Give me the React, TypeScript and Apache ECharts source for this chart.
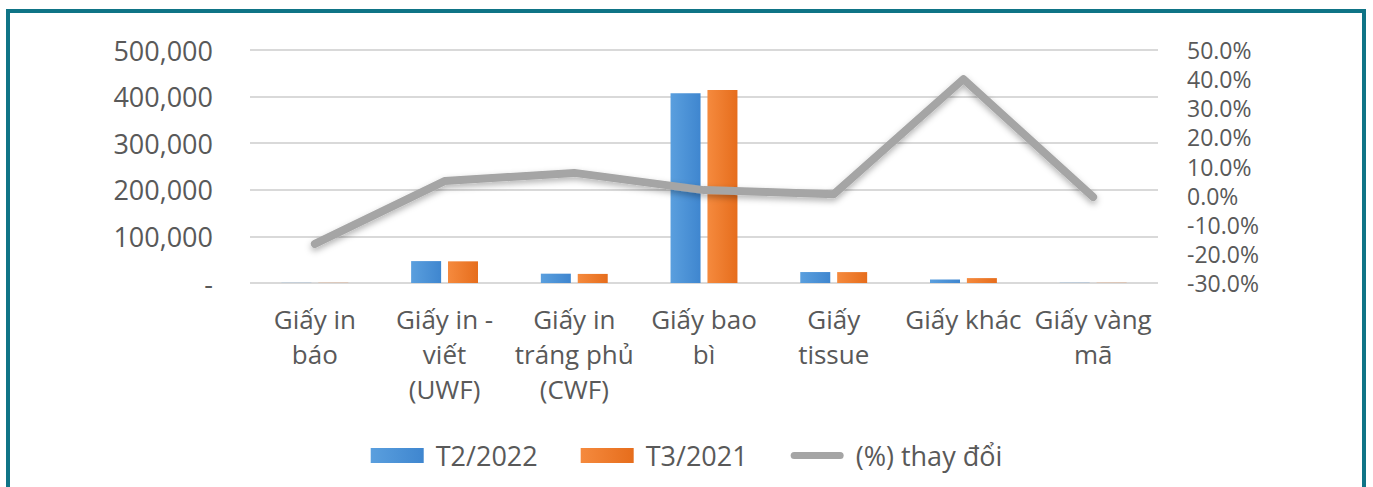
import React, { useEffect, useRef } from "react";
import * as echarts from "echarts";

const categories = [
  "Giấy in\nbáo",
  "Giấy in -\nviết\n(UWF)",
  "Giấy in\ntráng phủ\n(CWF)",
  "Giấy bao\nbì",
  "Giấy\ntissue",
  "Giấy khác",
  "Giấy vàng\nmã",
];
const seriesT2_2022 = [300, 47000, 20000, 407000, 23500, 7500, 400];
const seriesT3_2021 = [360, 46500, 19500, 414000, 23400, 10500, 402];
const pctChange = [-0.166, 0.05, 0.078, 0.019, 0.005, 0.4, -0.005];
const leftTicks = { min: 0, max: 500000, interval: 100000 };
const rightTicks = { min: -0.3, max: 0.5, interval: 0.1 };

const TEXT = "#595959";
const FONT = "'Open Sans', 'Noto Sans', sans-serif";

export default function App() {
  const ref = useRef<HTMLDivElement>(null);
  useEffect(() => {
    if (!ref.current) return;
    const chart = echarts.init(ref.current, undefined, { renderer: "svg" });
    chart.setOption({
      animation: false,
      backgroundColor: "#ffffff",
      graphic: [
        {
          type: "rect",
          shape: { x: 8, y: 11, width: 1356, height: 520 },
          style: { fill: "none", stroke: "#0f7486", lineWidth: 4 },
          silent: true,
        },
      ],
      grid: { left: 250, right: 215, top: 50, bottom: 204, containLabel: false },
      legend: {
        top: 437,
        left: "center",
        itemWidth: 53,
        itemHeight: 15,
        itemGap: 43,
        symbolKeepAspect: true,
        formatter: (name: string) => " " + name,
        textStyle: { fontSize: 27, color: TEXT, fontFamily: FONT },
        data: [
          { name: "T2/2022", icon: "rect" },
          { name: "T3/2021", icon: "rect" },
          {
            name: "(%) thay đổi",
            icon: "path://M4,0H56A4,4 0 0 1 56,8H4A4,4 0 0 1 4,0Z",
            itemStyle: { color: "#a5a5a5" },
          },
        ],
      },
      xAxis: {
        type: "category",
        data: categories,
        axisLine: { show: false },
        axisTick: { show: false },
        axisLabel: {
          interval: 0,
          margin: 18,
          fontSize: 26,
          lineHeight: 35,
          color: TEXT,
          fontFamily: FONT,
        },
      },
      yAxis: [
        {
          type: "value",
          min: leftTicks.min,
          max: leftTicks.max,
          interval: leftTicks.interval,
          axisLine: { show: false },
          axisTick: { show: false },
          splitLine: { lineStyle: { color: "#d9d9d9", width: 2 } },
          axisLabel: {
            margin: 37,
            fontSize: 27,
            lineHeight: 32,
            color: TEXT,
            fontFamily: FONT,
            formatter: (v: number) => (v === 0 ? "-" : v.toLocaleString("en-US")),
          },
        },
        {
          type: "value",
          min: rightTicks.min,
          max: rightTicks.max,
          interval: rightTicks.interval,
          axisLine: { show: false },
          axisTick: { show: false },
          splitLine: { show: false },
          axisLabel: {
            margin: 29,
            fontSize: 23,
            lineHeight: 26,
            color: TEXT,
            fontFamily: FONT,
            formatter: (v: number) => (Math.round(v * 1000) / 10).toFixed(1) + "%",
          },
        },
      ],
      series: [
        {
          name: "T2/2022",
          type: "bar",
          data: seriesT2_2022,
          barWidth: 30,
          barGap: "23%",
          itemStyle: {
            color: new echarts.graphic.LinearGradient(0, 0, 1, 0, [
              { offset: 0, color: "#5a9fde" },
              { offset: 1, color: "#3f86cf" },
            ]),
          },
        },
        {
          name: "T3/2021",
          type: "bar",
          data: seriesT3_2021,
          barWidth: 30,
          itemStyle: {
            color: new echarts.graphic.LinearGradient(0, 0, 1, 0, [
              { offset: 0, color: "#f58a3e" },
              { offset: 1, color: "#e66d1c" },
            ]),
          },
        },
        {
          name: "(%) thay đổi",
          type: "line",
          yAxisIndex: 1,
          data: pctChange,
          symbol: "none",
          itemStyle: { color: "#a5a5a5" },
          lineStyle: {
            color: "#a5a5a5",
            width: 8,
            cap: "round",
            join: "round",
            shadowBlur: 6,
            shadowColor: "rgba(0,0,0,0.3)",
            shadowOffsetY: 3,
          },
          z: 5,
        },
      ],
    });
    return () => chart.dispose();
  }, []);
  return (
    <div
      ref={ref}
      style={{ position: "fixed", left: 0, top: 0, width: 1373, height: 487 }}
    />
  );
}
